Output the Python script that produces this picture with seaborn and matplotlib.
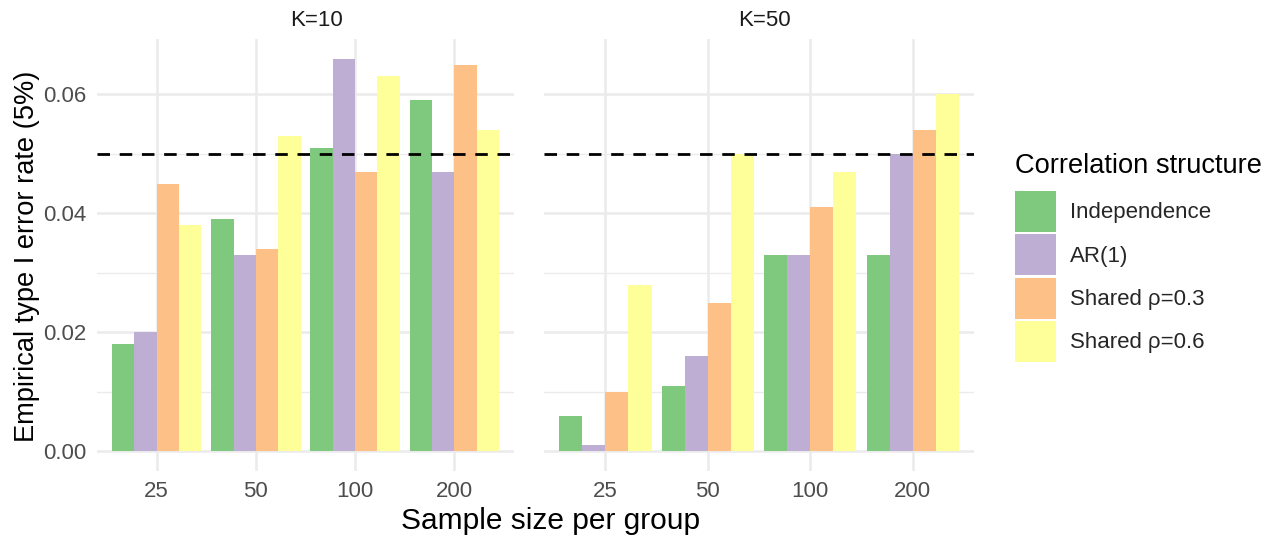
import numpy as np
import pandas as pd
import matplotlib
matplotlib.use("Agg")
import matplotlib.pyplot as plt
import seaborn as sns

# ---- data ----
sample_sizes = ["25", "50", "100", "200"]
structures = ["Independence", "AR(1)", "Shared ρ=0.3", "Shared ρ=0.6"]
panels = ["K=10", "K=50"]

k10_independence = [0.018, 0.039, 0.051, 0.059]
k10_ar1 = [0.020, 0.033, 0.066, 0.047]
k10_shared03 = [0.045, 0.034, 0.047, 0.065]
k10_shared06 = [0.038, 0.053, 0.063, 0.054]

k50_independence = [0.006, 0.011, 0.033, 0.033]
k50_ar1 = [0.001, 0.016, 0.033, 0.050]
k50_shared03 = [0.010, 0.025, 0.041, 0.054]
k50_shared06 = [0.028, 0.050, 0.047, 0.060]

nominal_level = 0.05
y_ticks = [0.00, 0.02, 0.04, 0.06]
y_minor = [0.01, 0.03, 0.05]

colors = ["#7FC97F", "#BEAED4", "#FDC086", "#FFFF99"]

rows = []
for panel, series in [
    ("K=10", [k10_independence, k10_ar1, k10_shared03, k10_shared06]),
    ("K=50", [k50_independence, k50_ar1, k50_shared03, k50_shared06]),
]:
    for s, vals in zip(structures, series):
        for n, v in zip(sample_sizes, vals):
            rows.append({"K": panel, "n": n, "structure": s, "rate": v})
df = pd.DataFrame(rows)

# ---- figure ----
sns.set_theme(style="white")
plt.rcParams["font.family"] = ["Liberation Sans", "DejaVu Sans"]

W, H = 1273, 542
fig = plt.figure(figsize=(W / 100, H / 100), dpi=100)

panel_top, panel_bot = 39, 471
axes_px = [(97, 514), (544, 974)]
axes = []
for (x0, x1) in axes_px:
    ax = fig.add_axes([x0 / W, 1 - panel_bot / H, (x1 - x0) / W, (panel_bot - panel_top) / H])
    axes.append(ax)

grid_c = "#EBEBEB"
handles = labels = None
for i, (ax, panel) in enumerate(zip(axes, panels)):
    sub = df[df["K"] == panel]
    sns.barplot(data=sub, x="n", y="rate", hue="structure", order=sample_sizes,
                hue_order=structures, palette=colors, width=0.9, ax=ax,
                saturation=1, linewidth=0, errorbar=None, legend=True)
    if i == 0:
        handles, labels = ax.get_legend_handles_labels()
    if ax.get_legend() is not None:
        ax.get_legend().remove()
    ax.set_xlim(-0.6, 3.6)
    ax.set_ylim(-0.0033, 0.0693)
    ax.set_yticks(y_ticks)
    ax.set_yticks(y_minor, minor=True)
    ax.grid(False)
    for yv in y_ticks:
        ax.axhline(yv, color=grid_c, lw=1.8, zorder=0)
    for yv in y_minor:
        ax.axhline(yv, color=grid_c, lw=1.0, zorder=0)
    for xv in range(len(sample_sizes)):
        ax.axvline(xv, color=grid_c, lw=1.8, zorder=0)
    ax.axhline(nominal_level, color="black", lw=2.0, linestyle=(0, (4.5, 3.5)), zorder=5)
    for sp in ax.spines.values():
        sp.set_visible(False)
    ax.set_xlabel("")
    ax.set_ylabel("")
    ax.tick_params(axis="both", which="both", length=0, labelsize=16, labelcolor="#4D4D4D")
    ax.tick_params(axis="x", pad=7)
    ax.tick_params(axis="y", pad=8)
    ax.set_yticklabels([f"{v:.2f}" for v in y_ticks])
    if i == 1:
        ax.tick_params(axis="y", labelleft=False)
    ax.set_facecolor("white")

# strip labels
fig.text(317 / W, 1 - 20 / H, panels[0], ha="center", va="center", fontsize=16, color="#1A1A1A")
fig.text(764 / W, 1 - 20 / H, panels[1], ha="center", va="center", fontsize=16, color="#1A1A1A")

# axis titles
fig.text(551 / W, 1 - 521 / H, "Sample size per group", ha="center", va="center", fontsize=21.5, color="black")
fig.text(27 / W, 1 - 256 / H, "Empirical type I error rate (5%)", ha="center", va="center",
         rotation=90, fontsize=19.6, color="black")

# legend
fig.text(1015 / W, 1 - 166 / H, "Correlation structure", ha="left", va="center",
         fontsize=19.6, color="black")
leg = fig.legend(handles, labels, loc="upper left", bbox_to_anchor=(1015 / W, 1 - 191 / H),
                 frameon=False, fontsize=16,
                 handlelength=1.85, handleheight=2.47, labelspacing=0.1, handletextpad=0.62,
                 borderpad=0, borderaxespad=0)

fig.savefig("out.png", dpi=100)
